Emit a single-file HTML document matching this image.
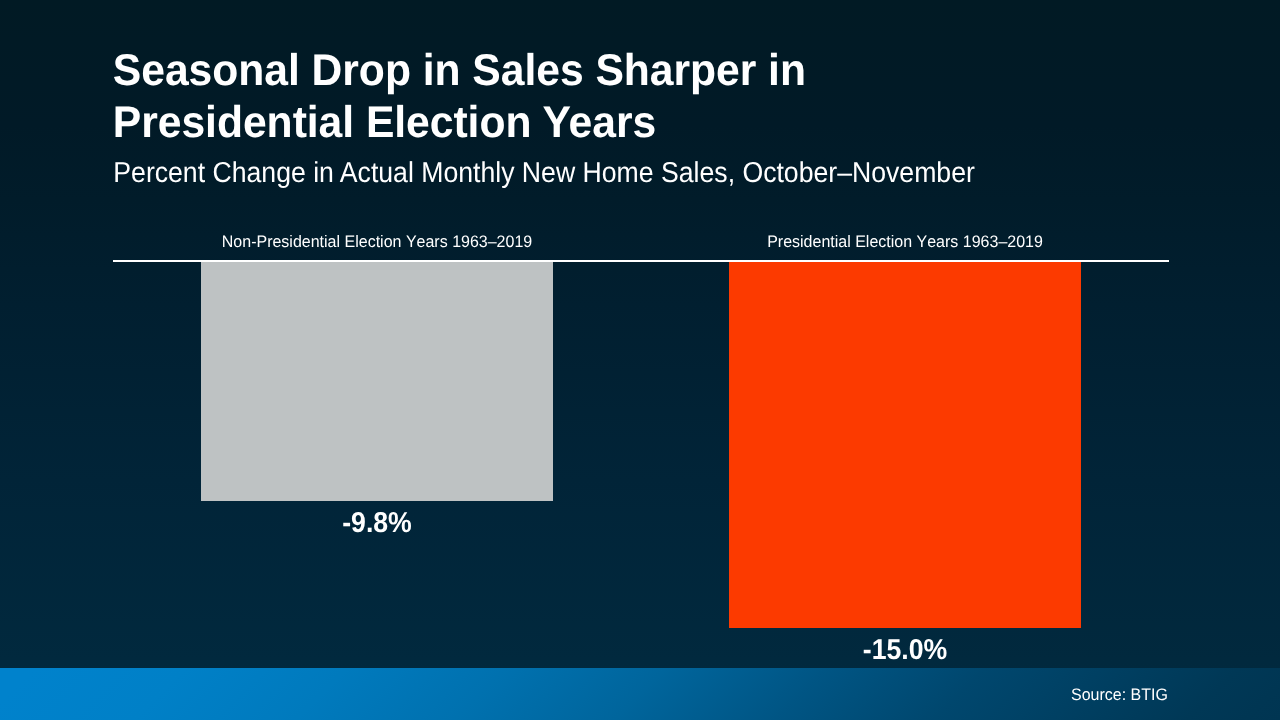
<!DOCTYPE html>
<html><head><meta charset="utf-8">
<title>Seasonal Drop in Sales Sharper in Presidential Election Years</title>
<style>
html,body{margin:0;padding:0;}
body{width:1280px;height:720px;overflow:hidden;position:relative;font-family:"Liberation Sans",sans-serif;color:#fff;
background:linear-gradient(180deg,#011a24 0px,#011a27 124px,#011c2a 200px,#011f30 305px,#012438 480px,#01293e 660px,#012a40 720px);}
.t{position:absolute;will-change:transform;transform:scaleY(1.04);transform-origin:50% 84.65%;text-rendering:geometricPrecision;white-space:nowrap;line-height:1;}
#title1,#title2{left:112px;letter-spacing:-0.045px;transform:translate(0.8px,0px) scaleY(1.04);font-weight:bold;font-size:42.667px;}
#title1{top:50px;}
#title2{top:102px;}
#sub{left:113px;top:160px;font-size:26.667px;letter-spacing:-0.012px;transform:translate(0.3px,0) scaleY(1.08);}
.lab{font-size:16px;font-kerning:none;transform:translateX(-50%) scaleY(1.04);top:235px;}
#lab1{left:377px;}
#lab2{left:905.3px;}
#axis{position:absolute;left:113px;top:260px;width:1056px;height:2px;background:#fff;}
#bar1{position:absolute;left:201px;top:262px;width:352px;height:239px;background:#bec2c3;}
#bar2{position:absolute;left:729px;top:262px;width:352px;height:366px;background:#fc3a00;}
.val{font-weight:bold;font-size:26.667px;transform:translateX(-50%) scaleY(1.08);}
#v1{left:377px;top:510px;}
#v2{left:905px;top:637px;}
#foot{position:absolute;left:0;top:668px;width:1280px;height:52px;
background:linear-gradient(135deg,#0082cc 0%,#0082cc 2.5%,#0080c7 14%,#007abd 26%,#0071af 38%,#00659c 50%,#005584 62%,#00476e 74%,#003856 93%,#003653 97.4%,#003552 100%);}
#src{right:112px;top:688px;font-size:16px;}
</style></head><body>
<div id="foot"></div>
<div id="axis"></div>
<div id="bar1"></div>
<div id="bar2"></div>
<div class="t" id="title1">Seasonal Drop in Sales Sharper in</div>
<div class="t" id="title2">Presidential Election Years</div>
<div class="t" id="sub">Percent Change in Actual Monthly New Home Sales, October–November</div>
<div class="t lab" id="lab1">Non-Presidential Election Years 1963–2019</div>
<div class="t lab" id="lab2">Presidential Election Years 1963–2019</div>
<div class="t val" id="v1">-9.8%</div>
<div class="t val" id="v2">-15.0%</div>
<div class="t" id="src">Source: BTIG</div>
</body></html>
